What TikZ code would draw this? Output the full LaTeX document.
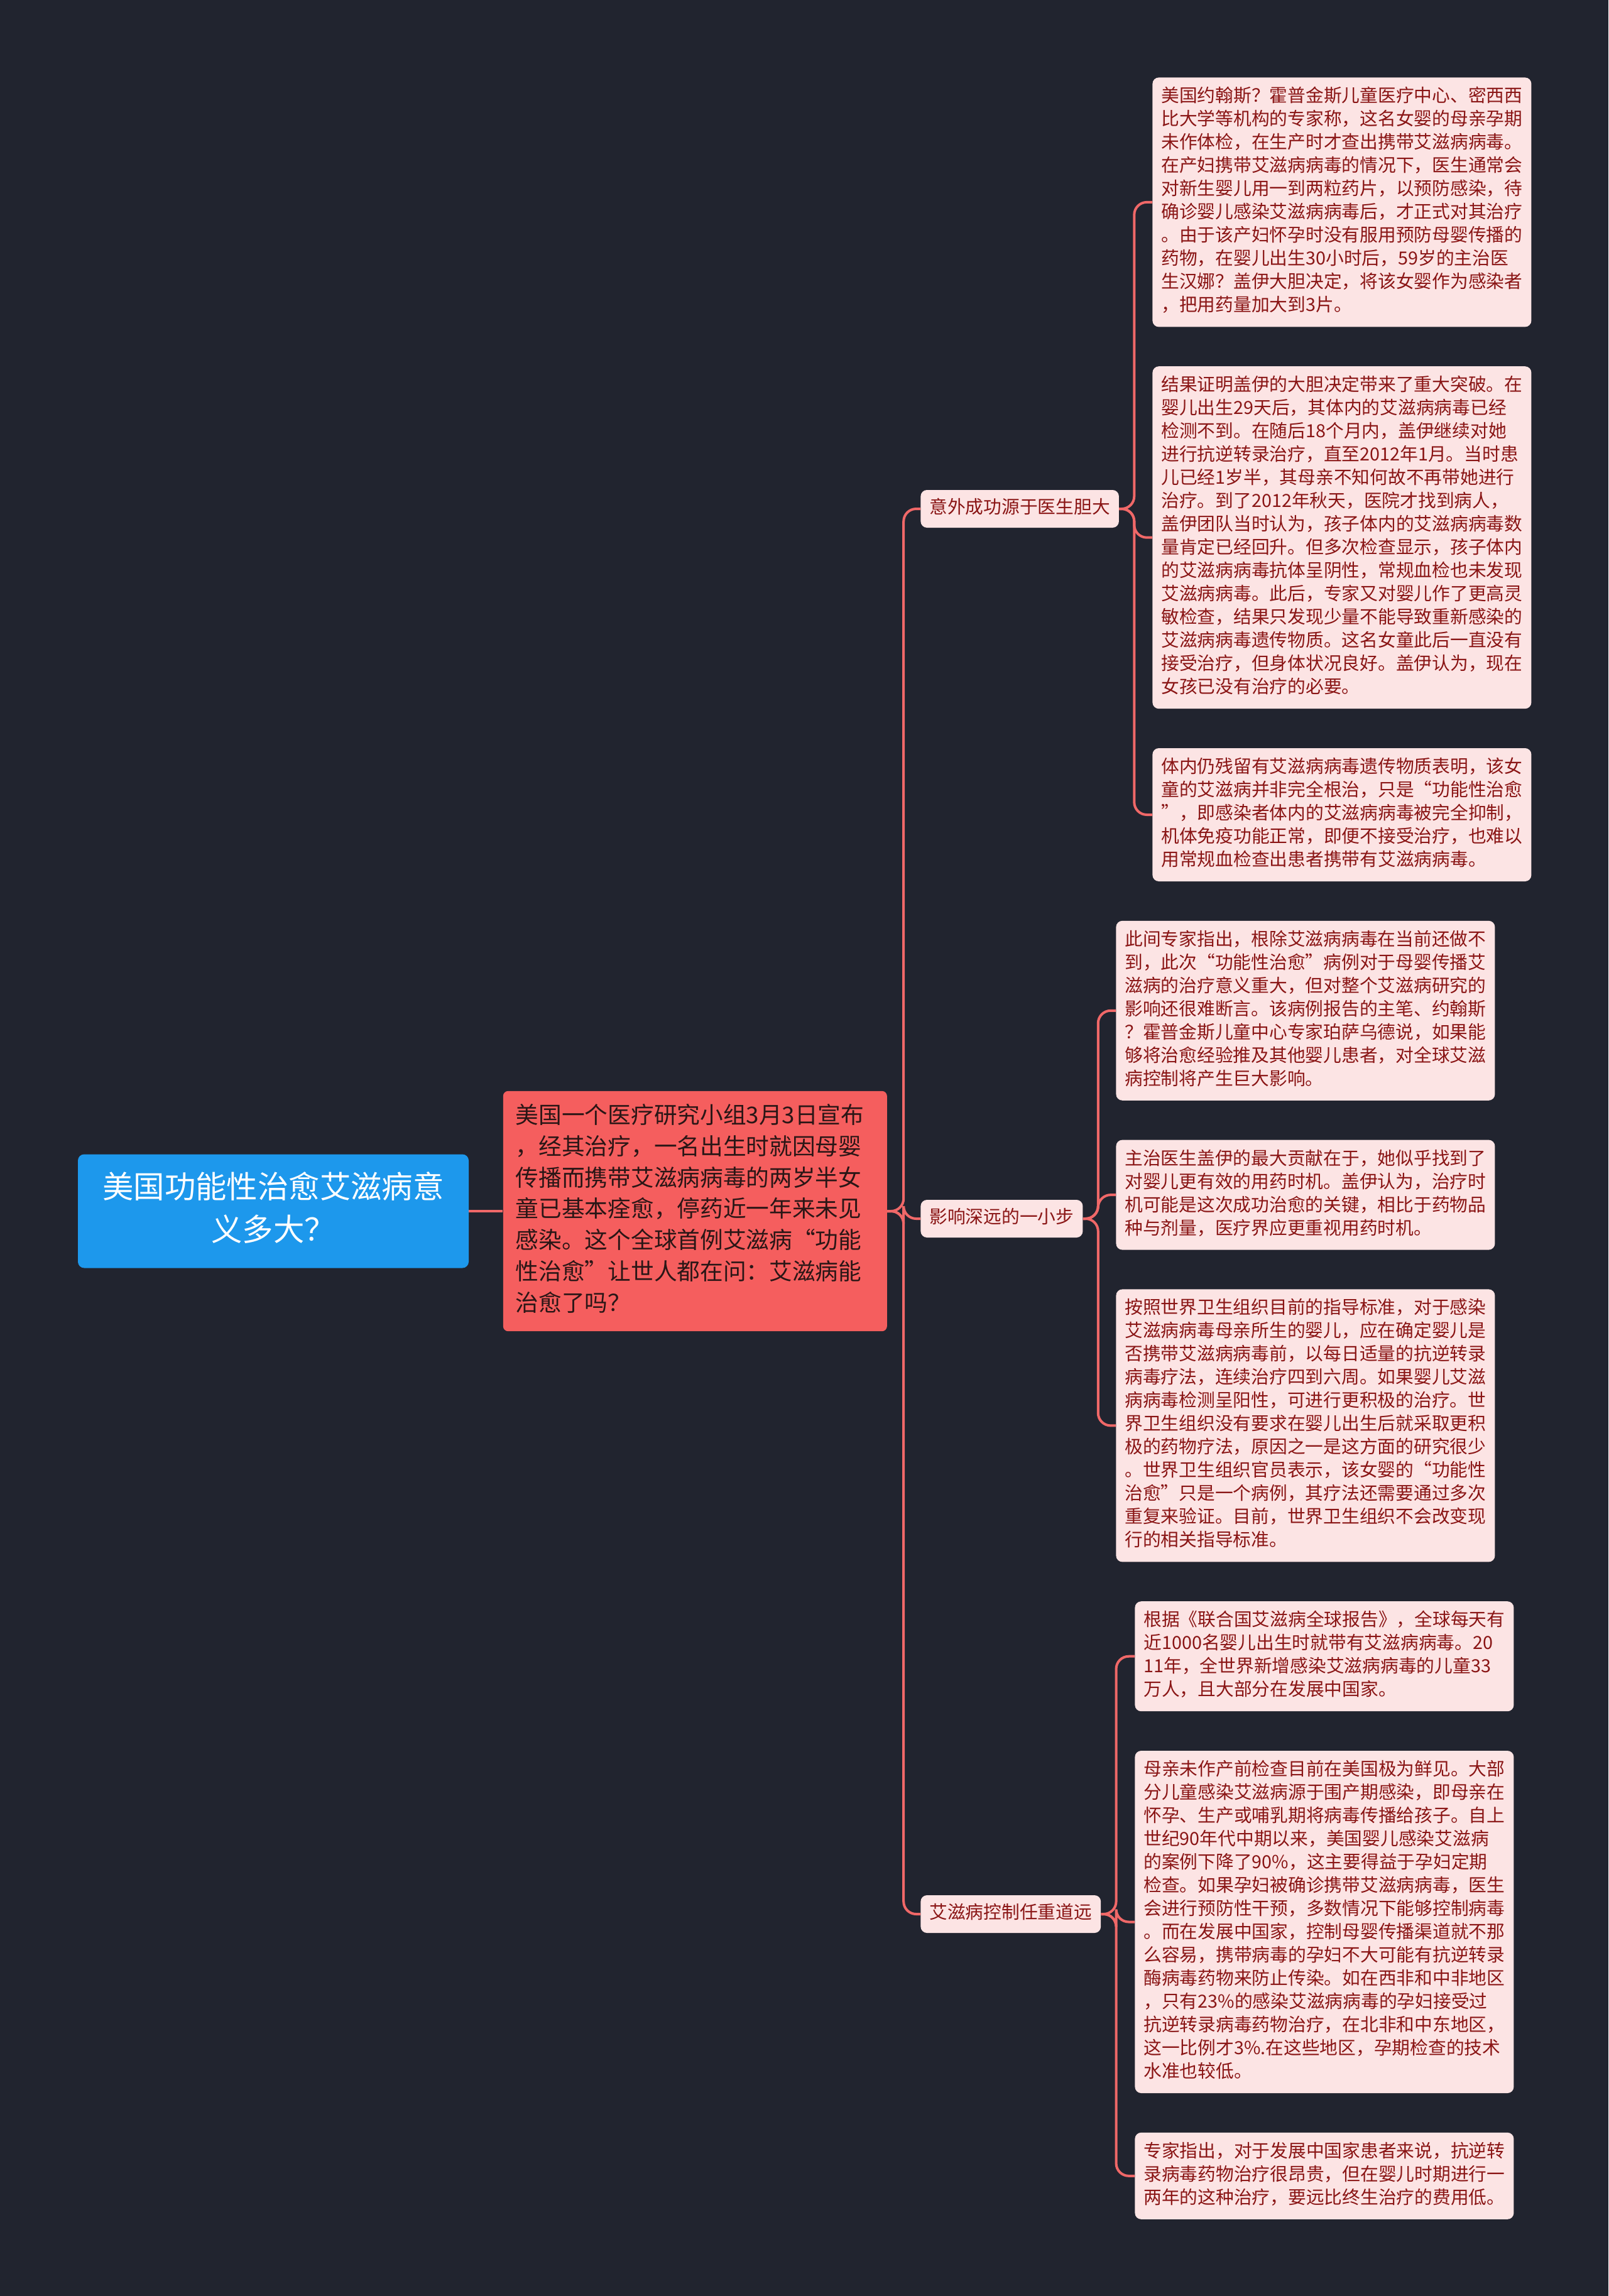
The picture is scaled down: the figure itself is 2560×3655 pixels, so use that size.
\documentclass[tikz,border=0pt]{standalone}
\usepackage{fontspec}
\setmainfont{Noto Sans CJK SC}
\usetikzlibrary{positioning}
\definecolor{canvas}{HTML}{21242F}
\definecolor{rootblue}{HTML}{1D98EC}
\definecolor{topicred}{HTML}{F55E5E}
\definecolor{topicink}{HTML}{2A1616}
\definecolor{leafpink}{HTML}{FCE4E4}
\definecolor{leafink}{HTML}{8A1515}
\definecolor{linkred}{HTML}{F06868}

\begin{document}
\begin{tikzpicture}[
    x=0.5pt, y=-0.5pt,
    node distance=31pt,
    root/.style={rectangle, rounded corners=5pt, fill=rootblue, text=white,
                 font=\fontsize{24.7pt}{34pt}\selectfont, text width=272pt, align=center,
                 inner xsep=19.5pt, inner ysep=11.25pt,
                 execute at begin node=\strut, execute at end node=\strut},
    topic/.style={rectangle, rounded corners=4pt, fill=topicred, text=topicink,
                  font=\fontsize{18.35pt}{24.9pt}\selectfont, text width=285.5pt, align=left,
                  inner xsep=10pt, inner ysep=8.45pt,
                  execute at begin node=\strut, execute at end node=\strut},
    branch/.style={rectangle, rounded corners=5pt, fill=leafpink, text=leafink,
                   font=\fontsize{14.375pt}{18.5pt}\selectfont,
                   inner xsep=7pt, inner ysep=5.75pt, text height=12.95pt, text depth=5.55pt},
    leaf/.style={rectangle, rounded corners=5pt, fill=leafpink, text=leafink,
                 font=\fontsize{14.375pt}{18.5pt}\selectfont, text width=287.5pt, align=left,
                 inner xsep=7pt, inner ysep=6.75pt,
                 execute at begin node=\strut, execute at end node=\strut},
    link/.style={draw=linkred, line width=2pt, rounded corners=10pt}
  ]
  \fill[canvas] (0,0) rectangle (2560,3655);

  % centre and first level
  \node[root] (root) at (435,1928) {美国功能性治愈艾滋病意\\义多大？};
  \node[topic, right=27pt of root] (topic) {美国一个医疗研究小组3月3日宣布\\，经其治疗，一名出生时就因母婴\\传播而携带艾滋病病毒的两岁半女\\童已基本痊愈，停药近一年来未见\\感染。这个全球首例艾滋病“功能\\性治愈”让世人都在问：艾滋病能\\治愈了吗？};

  \node[branch, anchor=west] (luck) at (1465,810) {意外成功源于医生胆大};
  \node[branch, anchor=west] (impact) at (1465,1940) {影响深远的一小步};
  \node[branch, anchor=west] (ctrl) at (1465,3047) {艾滋病控制任重道远};

  % leaves
  \node[leaf, anchor=north west] (luck1) at (1834,123) {美国约翰斯？霍普金斯儿童医疗中心、密西西\\比大学等机构的专家称，这名女婴的母亲孕期\\未作体检，在生产时才查出携带艾滋病病毒。\\在产妇携带艾滋病病毒的情况下，医生通常会\\对新生婴儿用一到两粒药片，以预防感染，待\\确诊婴儿感染艾滋病病毒后，才正式对其治疗\\。由于该产妇怀孕时没有服用预防母婴传播的\\药物，在婴儿出生30小时后，59岁的主治医\\生汉娜？盖伊大胆决定，将该女婴作为感染者\\，把用药量加大到3片。};
  \node[leaf, below=of luck1] (luck2) {结果证明盖伊的大胆决定带来了重大突破。在\\婴儿出生29天后，其体内的艾滋病病毒已经\\检测不到。在随后18个月内，盖伊继续对她\\进行抗逆转录治疗，直至2012年1月。当时患\\儿已经1岁半，其母亲不知何故不再带她进行\\治疗。到了2012年秋天，医院才找到病人，\\盖伊团队当时认为，孩子体内的艾滋病病毒数\\量肯定已经回升。但多次检查显示，孩子体内\\的艾滋病病毒抗体呈阴性，常规血检也未发现\\艾滋病病毒。此后，专家又对婴儿作了更高灵\\敏检查，结果只发现少量不能导致重新感染的\\艾滋病病毒遗传物质。这名女童此后一直没有\\接受治疗，但身体状况良好。盖伊认为，现在\\女孩已没有治疗的必要。};
  \node[leaf, below=of luck2] (luck3) {体内仍残留有艾滋病病毒遗传物质表明，该女\\童的艾滋病并非完全根治，只是“功能性治愈\\”，即感染者体内的艾滋病病毒被完全抑制，\\机体免疫功能正常，即便不接受治疗，也难以\\用常规血检查出患者携带有艾滋病病毒。};

  \node[leaf, below=of luck3.south west, anchor=north west, xshift=-29pt] (impact1) {此间专家指出，根除艾滋病病毒在当前还做不\\到，此次“功能性治愈”病例对于母婴传播艾\\滋病的治疗意义重大，但对整个艾滋病研究的\\影响还很难断言。该病例报告的主笔、约翰斯\\？霍普金斯儿童中心专家珀萨乌德说，如果能\\够将治愈经验推及其他婴儿患者，对全球艾滋\\病控制将产生巨大影响。};
  \node[leaf, below=of impact1] (impact2) {主治医生盖伊的最大贡献在于，她似乎找到了\\对婴儿更有效的用药时机。盖伊认为，治疗时\\机可能是这次成功治愈的关键，相比于药物品\\种与剂量，医疗界应更重视用药时机。};
  \node[leaf, below=of impact2] (impact3) {按照世界卫生组织目前的指导标准，对于感染\\艾滋病病毒母亲所生的婴儿，应在确定婴儿是\\否携带艾滋病病毒前，以每日适量的抗逆转录\\病毒疗法，连续治疗四到六周。如果婴儿艾滋\\病病毒检测呈阳性，可进行更积极的治疗。世\\界卫生组织没有要求在婴儿出生后就采取更积\\极的药物疗法，原因之一是这方面的研究很少\\。世界卫生组织官员表示，该女婴的“功能性\\治愈”只是一个病例，其疗法还需要通过多次\\重复来验证。目前，世界卫生组织不会改变现\\行的相关指导标准。};

  \node[leaf, below=of impact3.south west, anchor=north west, xshift=15pt] (ctrl1) {根据《联合国艾滋病全球报告》，全球每天有\\近1000名婴儿出生时就带有艾滋病病毒。20\\11年，全世界新增感染艾滋病病毒的儿童33\\万人，且大部分在发展中国家。};
  \node[leaf, below=of ctrl1] (ctrl2) {母亲未作产前检查目前在美国极为鲜见。大部\\分儿童感染艾滋病源于围产期感染，即母亲在\\怀孕、生产或哺乳期将病毒传播给孩子。自上\\世纪90年代中期以来，美国婴儿感染艾滋病\\的案例下降了90\%，这主要得益于孕妇定期\\检查。如果孕妇被确诊携带艾滋病病毒，医生\\会进行预防性干预，多数情况下能够控制病毒\\。而在发展中国家，控制母婴传播渠道就不那\\么容易，携带病毒的孕妇不大可能有抗逆转录\\酶病毒药物来防止传染。如在西非和中非地区\\，只有23\%的感染艾滋病病毒的孕妇接受过\\抗逆转录病毒药物治疗，在北非和中东地区，\\这一比例才3\%.在这些地区，孕期检查的技术\\水准也较低。};
  \node[leaf, below=of ctrl2] (ctrl3) {专家指出，对于发展中国家患者来说，抗逆转\\录病毒药物治疗很昂贵，但在婴儿时期进行一\\两年的这种治疗，要远比终生治疗的费用低。};

  % connectors
  \draw[link] (root) -- (topic);
  \foreach \b in {luck, impact, ctrl}
    \draw[link] (topic.east) -- ++(13pt,0) |- (\b.west);
  \foreach \b in {luck, impact, ctrl}
    \foreach \n in {1,2,3}
      \draw[link] (\b.east) -- ++(12pt,0) |- (\b\n.west);
\end{tikzpicture}
\end{document}
